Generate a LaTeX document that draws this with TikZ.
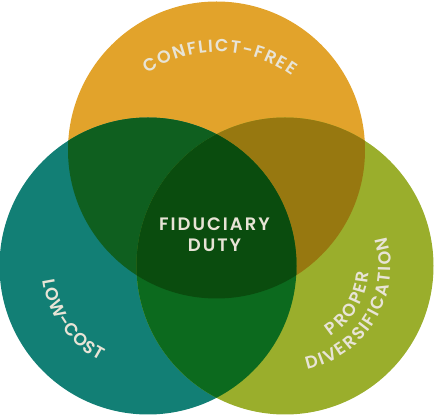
\documentclass[tikz,border=0pt]{standalone}
\usepackage{fontspec}
\usetikzlibrary{decorations.text}
\newfontfamily\dutyfam[LetterSpace=11]{Poppins SemiBold}
\newfontfamily\arcfam{Poppins SemiBold}
\newcommand\dutyfont{\dutyfam\fontsize{18}{21}\selectfont}
\newcommand\arcfont{\arcfam\fontsize{17.5}{19}\selectfont}

\definecolor{cream}{HTML}{E8E4D6}
\definecolor{conflict}{HTML}{E2A32B}
\definecolor{lowcost}{HTML}{127F75}
\definecolor{diversif}{HTML}{9AAE2C}
\definecolor{topleft}{HTML}{0F5F1F}
\definecolor{topright}{HTML}{977810}
\definecolor{leftright}{HTML}{0C6A1E}
\definecolor{middle}{HTML}{0A4C0E}

\begin{document}
\begin{tikzpicture}[x=1pt,y=1pt,
  arclabel/.style={decorate,decoration={text along path,text color=cream,text align={fit to path}}},
  duty/.style={text=cream,align=center,inner sep=0pt,font=\dutyfont}]
  \useasboundingbox (0,0) rectangle (445,415);
  \coordinate (ctop) at (216.5,265);
  \coordinate (cleft) at (148,149);
  \coordinate (cright) at (285,149);

  % the three circles
  \fill[conflict] (ctop) circle[radius=148.5pt];
  \fill[lowcost] (cleft) circle[radius=148.5pt];
  \fill[diversif] (cright) circle[radius=148.5pt];

  % overlaps
  \begin{scope}
    \clip (ctop) circle[radius=148.5pt];
    \fill[topleft] (cleft) circle[radius=148.5pt];
    \fill[topright] (cright) circle[radius=148.5pt];
  \end{scope}
  \begin{scope}
    \clip (cleft) circle[radius=148.5pt];
    \fill[leftright] (cright) circle[radius=148.5pt];
    \clip (ctop) circle[radius=148.5pt];
    \fill[middle] (cright) circle[radius=148.5pt];
  \end{scope}

  % labels
  \node[duty] (duty) at (214.5,180) {FIDUCIARY\\DUTY};
  \path[arclabel,decoration={text={|\arcfont|CONFLICT-FREE}}]
    ([shift={(218,237)}]124:126pt) arc[start angle=124,end angle=54,radius=126pt];
  \path[arclabel,decoration={text={|\arcfont|LOW-COST}}]
    ([shift={(cleft)}]188:106pt) arc[start angle=188,end angle=243,radius=106pt];
  \path[arclabel,decoration={text={|\arcfont|PROPER}}]
    ([shift={(cright)}]-57:84pt) arc[start angle=-57,end angle=-4,radius=84pt];
  \path[arclabel,decoration={text={|\arcfont|DIVERSIFICATION}}]
    ([shift={(cright)}]-78:106pt) arc[start angle=-78,end angle=16,radius=106pt];
\end{tikzpicture}
\end{document}
